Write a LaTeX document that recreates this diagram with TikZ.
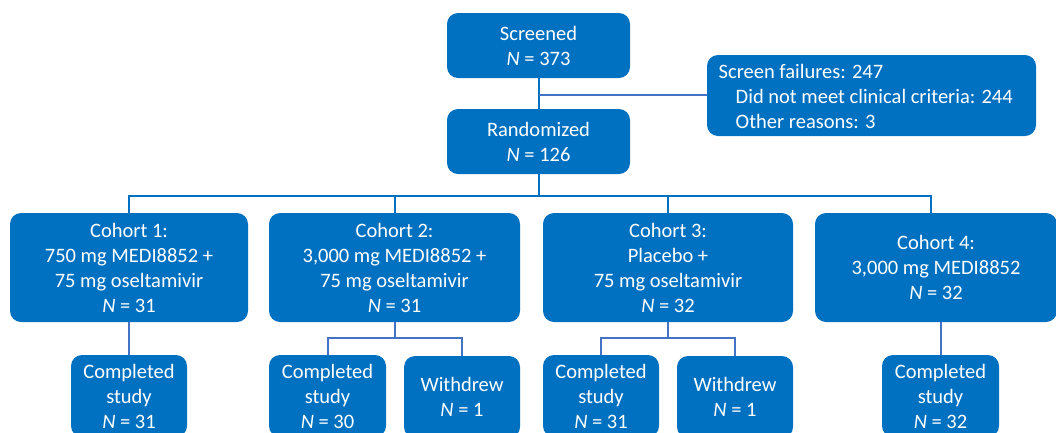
\documentclass[tikz,border=0pt]{standalone}
\usepackage{fontspec}
\setmainfont{Carlito}
\definecolor{boxblue}{HTML}{0070C0}
\definecolor{linkblue}{HTML}{4472C4}
\begin{document}
\begin{tikzpicture}[x=1pt,y=-1pt,
  box/.style={fill=boxblue, rounded corners=11pt, text=white, inner sep=0pt,
    align=center, font=\fontsize{20.5}{25}\selectfont},
  buslink/.style={draw=boxblue, line width=2pt},
  sublink/.style={draw=linkblue, line width=2pt}]
\useasboundingbox (0,0) rectangle (1056,432);
\clip (0,0) rectangle (1056,432);
% top
\node[box, minimum width=183, minimum height=65] (scr) at (538.5,45.5) {Screened\\{\itshape N} = 373};
\node[box, minimum width=183, minimum height=65] (rand) at (538.5,141.5) {Randomized\\{\itshape N} = 126};
\node[box, minimum width=329, minimum height=81] (fail) at (871.5,95.5) {};
\node[text=white, inner sep=0pt, anchor=west, align=left, font=\fontsize{20.5}{25}\selectfont] (failtext) at (718.5,96.5)
  {Screen failures: 247\\\hspace{17pt}Did not meet clinical criteria: 244\\\hspace{17pt}Other reasons: 3};
% cohorts
\node[box, minimum width=238, minimum height=109] (c1) at (129,267.5) {Cohort 1:\\750 mg MEDI8852 +\\75 mg oseltamivir\\{\itshape N} = 31};
\node[box, minimum width=251, minimum height=109] (c2) at (394.5,267.5) {Cohort 2:\\3,000 mg MEDI8852 +\\75 mg oseltamivir\\{\itshape N} = 31};
\node[box, minimum width=250, minimum height=109] (c3) at (668,267.5) {Cohort 3:\\Placebo +\\75 mg oseltamivir\\{\itshape N} = 32};
\node[box, minimum width=242, minimum height=109] (c4) at (936,267.5) {Cohort 4:\\3,000 mg MEDI8852\\{\itshape N} = 32};
% outcomes
\node[box, minimum width=116, minimum height=82] (d1) at (129,396) {Completed\\study\\{\itshape N} = 31};
\node[box, minimum width=117, minimum height=82] (d2a) at (327.5,396) {Completed\\study\\{\itshape N} = 30};
\node[box, minimum width=116, minimum height=82] (d2b) at (462,397) {Withdrew\\{\itshape N} = 1};
\node[box, minimum width=116, minimum height=82] (d3a) at (601,396) {Completed\\study\\{\itshape N} = 31};
\node[box, minimum width=116, minimum height=82] (d3b) at (735,397) {Withdrew\\{\itshape N} = 1};
\node[box, minimum width=117, minimum height=82] (d4) at (940.5,396) {Completed\\study\\{\itshape N} = 32};
% connectors
\coordinate (bus) at (538.5,195.5);
\coordinate (side) at (538.5,94.5);
\draw[buslink] (scr.south) -- (rand.north);
\draw[sublink] (side) -- (side -| fail.west);
\draw[buslink] (rand.south) -- (bus);
\draw[buslink] (c1.north) |- (bus);
\draw[buslink] ([xshift=-5pt]c4.north) |- (bus);
\draw[buslink] (c2.north) -- (c2.north |- bus);
\draw[buslink] (c3.north) -- (c3.north |- bus);
\draw[sublink] (c1.south) -- (d1.north);
\draw[sublink] (c2.south) -- ++(0,16) -| (d2a.north);
\draw[sublink] (c2.south) -- ++(0,16) -| (d2b.north);
\draw[sublink] (c3.south) -- ++(0,16) -| (d3a.north);
\draw[sublink] (c3.south) -- ++(0,16) -| (d3b.north);
\draw[sublink] (d4.north) -- (d4.north |- c4.south);
\end{tikzpicture}
\end{document}
